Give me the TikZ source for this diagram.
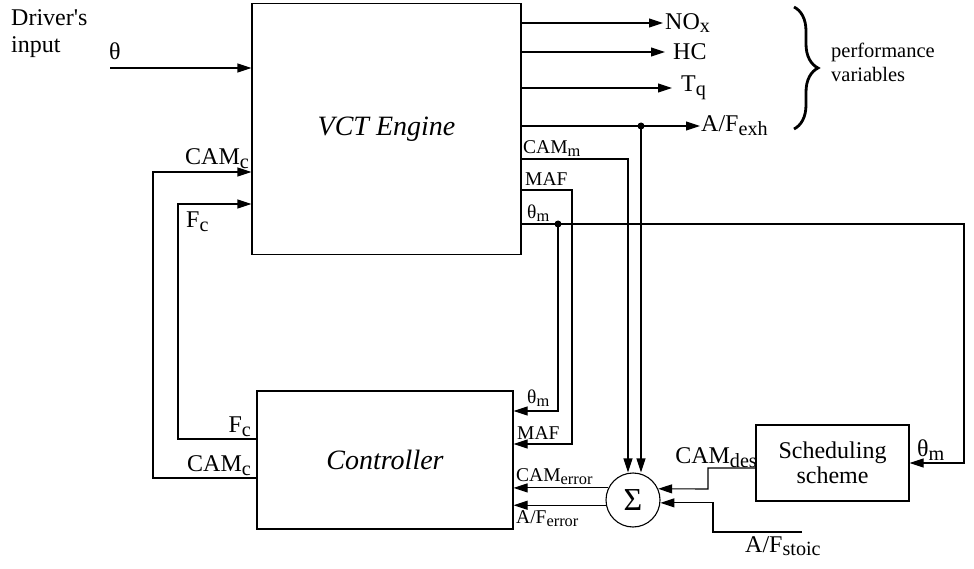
\documentclass[tikz,border=0pt]{standalone}
\usepackage{fontspec}
\setmainfont{Liberation Serif}[Ligatures=TeXOff]
\usetikzlibrary{arrows.meta,positioning,decorations.pathreplacing}
\newcommand{\lowr}[1]{\raisebox{-0.35ex}{\scalebox{0.84}{#1}}}

\begin{document}
\begin{tikzpicture}[x=1pt, y=-1pt,
        font=\fontsize{24}{25}\selectfont,
        block/.style={rectangle, draw, line width=1.1pt, inner sep=0pt},
        arr/.style={-{Triangle[length=14pt,width=9pt]}, line width=1.1pt},
        lbl/.style={inner sep=1pt},
        small/.style={lbl, font=\fontsize{19.5}{21}\selectfont},
        junc/.style={circle, fill, inner sep=0pt, minimum size=7pt}
    ]
        \useasboundingbox (0,0) rectangle (974,569);

        % Blocks
        \node[block, minimum width=269pt, minimum height=251pt, font=\itshape\fontsize{28}{30}\selectfont] (engine) at (386.5,129) {VCT Engine};
        \node[block, minimum width=256pt, minimum height=138pt, font=\itshape\fontsize{28}{30}\selectfont] (ctrl) at (385,460) {Controller};
        \node[block, minimum width=153pt, minimum height=76pt, align=center] (sched) at (832.5,463) {Scheduling\\scheme};
        \node[circle, draw, line width=1.1pt, minimum size=54pt, inner sep=0pt, font=\fontsize{32}{32}\selectfont] (sigma) at (633,500) {Σ};

        % Driver's input
        \node[lbl, anchor=north west, align=left, font=\fontsize{24}{27}\selectfont] (driver) at (10,8) {Driver's\\input};
        \coordinate (thin) at (110,68);
        \node[lbl, anchor=south west] (theta) at (108,61) {θ};
        \draw[arr] (thin) -- (thin -| engine.west);

        % Performance outputs
        \coordinate (noxend) at (663,23);
        \coordinate (hcend) at (665,52);
        \coordinate (tqend) at (672,88);
        \coordinate (afend) at (700,126);
        \draw[arr] (engine.east |- noxend) -- (noxend);
        \draw[arr] (engine.east |- hcend) -- (hcend);
        \draw[arr] (engine.east |- tqend) -- (tqend);
        \draw[arr] (engine.east |- afend) -- (afend);
        \node[lbl, right=1pt of noxend] (nox) {NO\lowr{x}};
        \node[lbl, right=7pt of hcend] (hc) {HC};
        \node[lbl, right=8pt of tqend] (tq) {T\lowr{q}};
        \node[lbl, right=0pt of afend] (afexh) {A/F\lowr{exh}};
        \draw[line width=2.8pt, decorate, decoration={brace, amplitude=24pt}] (794,7) -- (794,129);
        \node[lbl, anchor=west, align=left, font=\fontsize{20.5}{24}\selectfont] (perf) at (830,62) {performance\\variables};

        % Measured signals
        \node[junc] (afjunc) at (641,126) {};
        \draw[arr] (afjunc.center) -- (afjunc |- sigma.north);
        \coordinate (camm) at (628,159);
        \draw[arr] (engine.east |- camm) -- (camm) -- (camm |- sigma.north);
        \node[small, anchor=south west] (cammlbl) at (522,158) {CAM\lowr{m}};
        \coordinate (maf) at (572,190);
        \coordinate (mafc) at (572,444);
        \draw[arr] (engine.east |- maf) -- (maf) -- (mafc) -- (mafc -| ctrl.east);
        \node[small, anchor=south west] (maflbl) at (524,187) {MAF};
        \node[junc] (thmjunc) at (558,224) {};
        \coordinate (thr) at (964,224);
        \draw[arr] (engine.east |- thmjunc) -- (thr) -- (thr |- sched.east) -- (sched.east);
        \node[small, anchor=south west] (thmlbl) at (526,223) {θ\lowr{m}};
        \coordinate (thmc) at (558,411);
        \draw[arr] (thmjunc.center) -- (thmc) -- (thmc -| ctrl.east);

        % Controller inputs
        \node[small, anchor=south west] (thmin) at (526,408) {θ\lowr{m}};
        \node[small, anchor=south west] (mafin) at (516,441) {MAF};
        \draw[arr] (sigma.154) -- (sigma.154 -| ctrl.east);
        \draw[arr] (sigma.191) -- (sigma.191 -| ctrl.east);
        \node[small, anchor=south west] (camerr) at (515,486) {CAM\lowr{error}};
        \node[small, anchor=north west] (aferr) at (515,509) {A/F\lowr{error}};

        % Reference signals
        \coordinate (desa) at (708,468);
        \coordinate (desb) at (708,489);
        \draw[arr] ([yshift=-5pt]sched.west) -- (desa) -- (desb) -- (sigma.24);
        \node[lbl, anchor=south east] (camdes) at (758,469) {CAM\lowr{des}};
        \node[lbl, anchor=south west] (thmsched) at (916,462) {θ\lowr{m}};
        \coordinate (stoic) at (802,532);
        \coordinate (stoica) at (713,532);
        \draw[arr] (stoic) -- (stoica) -- (stoica |- sigma.354) -- (sigma.354);
        \node[lbl, anchor=north west] (afstoic) at (744,535) {A/F\lowr{stoic}};

        % Control outputs
        \coordinate (fca) at (178,439);
        \coordinate (fcb) at (178,204);
        \draw[arr] (ctrl.west |- fca) -- (fca) -- (fcb) -- (fcb -| engine.west);
        \coordinate (cama) at (153,478);
        \coordinate (camb) at (153,172);
        \draw[arr] (ctrl.west |- cama) -- (cama) -- (camb) -- (camb -| engine.west);
        \node[lbl, anchor=south east] (fcout) at (252,438) {F\lowr{c}};
        \node[lbl, anchor=south east] (camout) at (252,477) {CAM\lowr{c}};
        \node[lbl, anchor=south east] (camin) at (250,170) {CAM\lowr{c}};
        \node[lbl, anchor=north west] (fcin) at (185,211) {F\lowr{c}};
    \end{tikzpicture}
\end{document}
